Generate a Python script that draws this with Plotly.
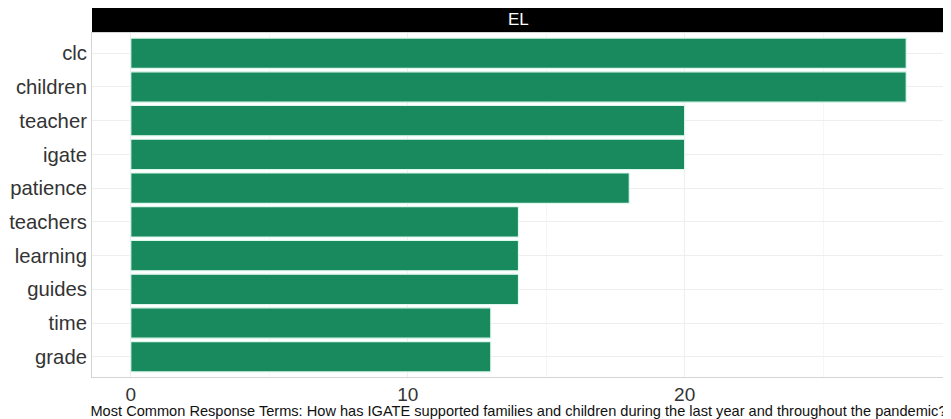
import plotly.graph_objects as go

terms = ["clc", "children", "teacher", "igate", "patience", "teachers", "learning", "guides", "time", "grade"]
counts = [28, 28, 20, 20, 18, 14, 14, 14, 13, 13]
facet_label = "EL"
x_title = "Most Common Response Terms: How has IGATE supported families and children during the last year and throughout the pandemic?"
x_ticks = [0, 10, 20]

fig = go.Figure()
fig.add_trace(go.Bar(
    x=counts,
    y=terms,
    orientation="h",
    width=0.9,
    marker=dict(color="#188a5e", line=dict(color="#dff8ee", width=1.2)),
    showlegend=False,
))

# page body has an 8px default margin, so the figure is sized to fit the window
fig.update_layout(
    width=943, height=411,
    margin=dict(l=84, r=6, t=25, b=42, autoexpand=False),
    paper_bgcolor="white",
    plot_bgcolor="white",
    font=dict(family="Liberation Sans, Arial, sans-serif", color="#333333"),
    bargap=0.1,
)
fig.update_xaxes(
    range=[-1.4, 29.4],
    tickvals=x_ticks,
    ticktext=[str(v) for v in x_ticks],
    tickfont=dict(size=19, color="#333333"),
    showgrid=True, gridcolor="#eeeeee", gridwidth=1,
    minor=dict(tickvals=[5, 15, 25], showgrid=True, gridcolor="#f6f6f6", gridwidth=1),
    zeroline=False,
    showline=True, mirror=True, linecolor="#d4d4d4", linewidth=1,
    ticks="", ticklen=0,
    ticklabelstandoff=0,
    automargin=False,
    title=dict(text=x_title, font=dict(size=14.6, color="#111111"), standoff=1),
    fixedrange=True,
)
fig.update_yaxes(
    categoryorder="array",
    categoryarray=terms[::-1],
    range=[-0.6, 9.6],
    tickfont=dict(size=20.3, color="#333333"),
    showgrid=True, gridcolor="#eeeeee", gridwidth=1,
    zeroline=False,
    showline=True, mirror=True, linecolor="#d4d4d4", linewidth=1,
    ticks="", ticklen=0,
    ticklabelstandoff=0,
    automargin=False,
    fixedrange=True,
)

# facet strip
fig.add_shape(
    type="rect", xref="paper", yref="paper",
    x0=0, x1=1, y0=1, y1=26, ysizemode="pixel", yanchor=1,
    line=dict(width=0), fillcolor="black",
)
fig.add_annotation(
    text=facet_label, xref="paper", yref="paper", x=0.5, y=1,
    yanchor="bottom", yshift=2, showarrow=False,
    font=dict(size=17, color="white", family="Liberation Sans, Arial, sans-serif"),
)

fig.write_html("out.html")
